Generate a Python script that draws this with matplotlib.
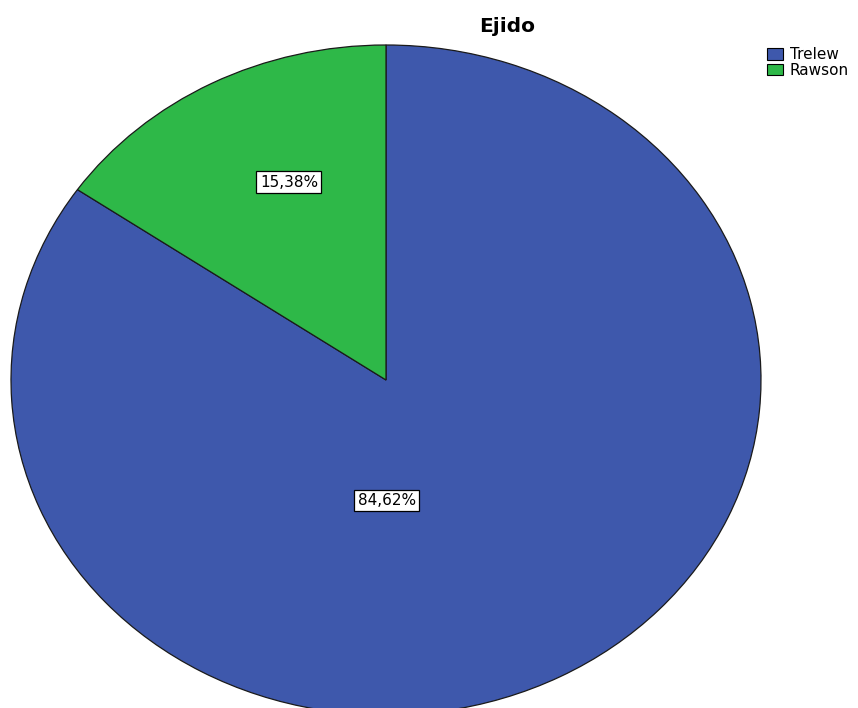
import matplotlib.pyplot as plt
from matplotlib.patches import Patch

plt.rcParams["font.family"] = ["DejaVu Sans"]

categories = ["Trelew", "Rawson"]
percentages = [84.62, 15.38]
colors = ["#3e58ac", "#2eb848"]
# label box centres in pie (normalised) coordinates, as placed in the original
label_pos = [(0.002, -0.36), (-0.259, 0.591)]


def main() -> None:
    W, H = 858, 708
    fig = plt.figure(figsize=(W / 100, H / 100), dpi=100)

    # elliptical pie: axes spans the pie bounding box in pixels
    left, top, right, bottom = 11, 45, 761, 715
    ax = fig.add_axes([left / W, (H - bottom) / H, (right - left) / W, (bottom - top) / H])

    wedges, texts, autotexts = ax.pie(
        percentages,
        colors=colors,
        startangle=90,
        counterclock=False,
        radius=1.0,
        autopct=lambda p: f"{p:.2f}%".replace(".", ","),
        wedgeprops=dict(edgecolor="#1a1a1a", linewidth=0.9),
        textprops=dict(fontsize=11, color="black"),
    )
    for t, (x, y) in zip(autotexts, label_pos):
        t.set_position((x, y))
        t.set_bbox(dict(boxstyle="square,pad=0.22", facecolor="white", edgecolor="black", linewidth=0.9))

    ax.set_aspect("auto")
    ax.set_xlim(-1, 1)
    ax.set_ylim(-1, 1)
    ax.axis("off")

    fig.text(507.5 / W, 1 - 32.5 / H, "Ejido", ha="center", va="baseline", fontsize=14.5, fontweight="bold")

    handles = [Patch(facecolor=c, edgecolor="black", linewidth=0.8) for c in colors]
    fig.legend(
        handles,
        categories,
        loc="upper left",
        bbox_to_anchor=(767 / W, 1 - 47 / H),
        frameon=False,
        fontsize=11,
        handlelength=1.05,
        handleheight=0.8,
        handletextpad=0.45,
        labelspacing=0.05,
        borderpad=0,
        borderaxespad=0,
    )

    fig.savefig("out.png", dpi=100)


if __name__ == "__main__":
    main()
